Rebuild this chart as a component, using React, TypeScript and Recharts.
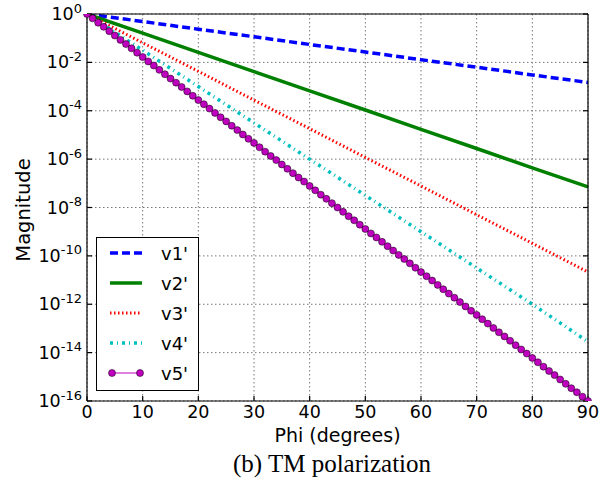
import {
  LineChart,
  Line,
  XAxis,
  YAxis,
  CartesianGrid,
  Legend,
} from "recharts"

// phi sample points (degrees)
const phiCoarse = [0, 10, 20, 30, 40, 50, 60, 70, 80, 90]
const phiFine = [
  0, 1, 2, 3, 4, 5, 6, 7, 8, 9, 10, 11, 12, 13, 14, 15, 16, 17, 18, 19, 20, 21, 22, 23, 24, 25, 26, 27, 28, 29,
  30, 31, 32, 33, 34, 35, 36, 37, 38, 39, 40, 41, 42, 43, 44, 45, 46, 47, 48, 49, 50, 51, 52, 53, 54, 55, 56, 57,
  58, 59, 60, 61, 62, 63, 64, 65, 66, 67, 68, 69, 70, 71, 72, 73, 74, 75, 76, 77, 78, 79, 80, 81, 82, 83, 84, 85,
  86, 87, 88, 89, 90,
]

// magnitudes, read as log10 exponents
const v1Exp = [0, -0.31, -0.63, -0.94, -1.26, -1.57, -1.89, -2.2, -2.52, -2.83]
const v2Exp = [0, -0.79, -1.59, -2.38, -3.18, -3.97, -4.77, -5.56, -6.36, -7.15]
const v3Exp = [0, -1.19, -2.37, -3.56, -4.74, -5.93, -7.11, -8.3, -9.48, -10.67]
const v4Exp = [0, -1.5, -3.0, -4.5, -6.0, -7.5, -9.0, -10.5, -12.0, -13.55]
const v5Exp = [
  0, -0.18, -0.36, -0.53, -0.71, -0.89, -1.07, -1.24, -1.42, -1.6, -1.78, -1.96, -2.13, -2.31, -2.49, -2.67,
  -2.84, -3.02, -3.2, -3.38, -3.56, -3.73, -3.91, -4.09, -4.27, -4.44, -4.62, -4.8, -4.98, -5.16, -5.33, -5.51,
  -5.69, -5.87, -6.04, -6.22, -6.4, -6.58, -6.76, -6.93, -7.11, -7.29, -7.47, -7.64, -7.82, -8.0, -8.18, -8.36,
  -8.53, -8.71, -8.89, -9.07, -9.24, -9.42, -9.6, -9.78, -9.96, -10.13, -10.31, -10.49, -10.67, -10.84, -11.02,
  -11.2, -11.38, -11.56, -11.73, -11.91, -12.09, -12.27, -12.44, -12.62, -12.8, -12.98, -13.16, -13.33, -13.51,
  -13.69, -13.87, -14.04, -14.22, -14.4, -14.58, -14.76, -14.93, -15.11, -15.29, -15.47, -15.64, -15.82, -16.0,
]

const xTicks = [0, 10, 20, 30, 40, 50, 60, 70, 80, 90]
const yTicks = [1, 1e-2, 1e-4, 1e-6, 1e-8, 1e-10, 1e-12, 1e-14, 1e-16]
const seriesNames = ["v1'", "v2'", "v3'", "v4'", "v5'"]

const toRows = (xs: number[], exps: number[]) => xs.map((phi, i) => ({ phi, value: Math.pow(10, exps[i]) }))

const series = [
  { name: seriesNames[0], data: toRows(phiCoarse, v1Exp), color: "#0000ff", width: 3.5, dash: "8 4" },
  { name: seriesNames[1], data: toRows(phiCoarse, v2Exp), color: "#008000", width: 3.5, dash: undefined },
  { name: seriesNames[2], data: toRows(phiCoarse, v3Exp), color: "#ff0000", width: 3, dash: "1.5 2.5" },
  { name: seriesNames[3], data: toRows(phiCoarse, v4Exp), color: "#00bfbf", width: 3.5, dash: "3 4 1 4" },
  { name: seriesNames[4], data: toRows(phiFine, v5Exp), color: "#bf00bf", width: 1, dash: undefined },
]

const FONT = "'DejaVu Sans', sans-serif"

function YTick({ x, y, payload }: any) {
  const exp = Math.round(Math.log10(payload.value))
  return (
    <text x={x} y={y + 6} textAnchor="end" fontFamily={FONT} fontSize={17.5} fill="#000">
      <tspan>10</tspan>
      <tspan dy={-7.5} fontSize={13}>{exp}</tspan>
    </text>
  )
}

function XTick({ x, y, payload }: any) {
  return (
    <text x={x} y={y + 20} textAnchor="middle" fontFamily={FONT} fontSize={17.5} fill="#000">
      {payload.value}
    </text>
  )
}

function MagnitudeLabel() {
  return (
    <text
      x={30}
      y={210}
      transform="rotate(-90 30 210)"
      textAnchor="middle"
      fontFamily={FONT}
      fontSize={19.5}
      fill="#000"
    >
      Magnitude
    </text>
  )
}

function LegendBox() {
  return (
    <div
      style={{
        width: 101,
        height: 152,
        border: "1px solid #000",
        background: "#fff",
        fontFamily: FONT,
      }}
    >
      <svg width={101} height={152}>
        {series.map((s, i) => {
          const cy = 15 + i * 30
          return (
            <g key={s.name}>
              <line
                x1={13}
                x2={45}
                y1={cy}
                y2={cy}
                stroke={s.color}
                strokeWidth={s.width}
                strokeDasharray={s.dash}
              />
              {i === 4 && (
                <>
                  <circle cx={15} cy={cy} r={3.5} fill="#bf00bf" stroke="#000" strokeWidth={0.5} />
                  <circle cx={43} cy={cy} r={3.5} fill="#bf00bf" stroke="#000" strokeWidth={0.5} />
                </>
              )}
              <text x={64} y={cy + 6.5} fontSize={18} fill="#000">
                {s.name}
              </text>
            </g>
          )
        })}
      </svg>
    </div>
  )
}

export default function App() {
  return (
    <div style={{ position: "absolute", left: 0, top: 0, width: 606, height: 484, background: "#fff" }}>
      <LineChart width={606} height={484} margin={{ top: 13, right: 17, bottom: 53, left: 0 }}>
        <CartesianGrid stroke="#777" strokeDasharray="1.5 2.5" strokeWidth={1} />
        <XAxis
          dataKey="phi"
          type="number"
          domain={[0, 90]}
          ticks={xTicks}
          height={30}
          stroke="#000"
          strokeWidth={1.2}
          tickSize={-5}
          tick={<XTick />}
          label={{
            value: "Phi (degrees)",
            position: "insideBottom",
            offset: -11,
            fontFamily: FONT,
            fontSize: 19,
            fill: "#000",
          }}
        />
        <XAxis
          xAxisId="top"
          orientation="top"
          type="number"
          domain={[0, 90]}
          ticks={xTicks}
          height={1}
          stroke="#000"
          strokeWidth={1.2}
          tickSize={-5}
          tick={() => <g />}
        />
        <YAxis
          scale="log"
          domain={[1e-16, 1]}
          ticks={yTicks}
          allowDataOverflow
          width={87}
          stroke="#000"
          strokeWidth={1.2}
          tickSize={-5}
          tickMargin={10}
          tick={<YTick />}
          label={<MagnitudeLabel />}
        />
        <YAxis
          yAxisId="right"
          orientation="right"
          scale="log"
          domain={[1e-16, 1]}
          ticks={yTicks}
          allowDataOverflow
          width={1}
          stroke="#000"
          strokeWidth={1.2}
          tickSize={-5}
          tick={() => <g />}
        />
        <Legend
          layout="vertical"
          align="center"
          verticalAlign="middle"
          content={() => <LegendBox />}
          wrapperStyle={{ position: "absolute", left: 96, top: 237, width: 103, height: 154 }}
        />
        {series.map((s, i) => (
          <Line
            key={s.name}
            name={s.name}
            data={s.data}
            dataKey="value"
            type="linear"
            stroke={s.color}
            strokeWidth={s.width}
            strokeDasharray={s.dash}
            dot={i === 4 ? { r: 3.5, fill: "#bf00bf", stroke: "#000", strokeWidth: 0.5, strokeDasharray: "" } : false}
            activeDot={false}
            isAnimationActive={false}
          />
        ))}
      </LineChart>
      <div
        style={{
          position: "absolute",
          left: 0,
          width: 606,
          top: 450,
          textAlign: "center",
          fontFamily: "'Liberation Serif', 'Times New Roman', serif",
          fontSize: 25,
          lineHeight: "normal",
          color: "#000",
          paddingLeft: 58,
          boxSizing: "border-box",
        }}
      >
        (b) TM polarization
      </div>
    </div>
  )
}
